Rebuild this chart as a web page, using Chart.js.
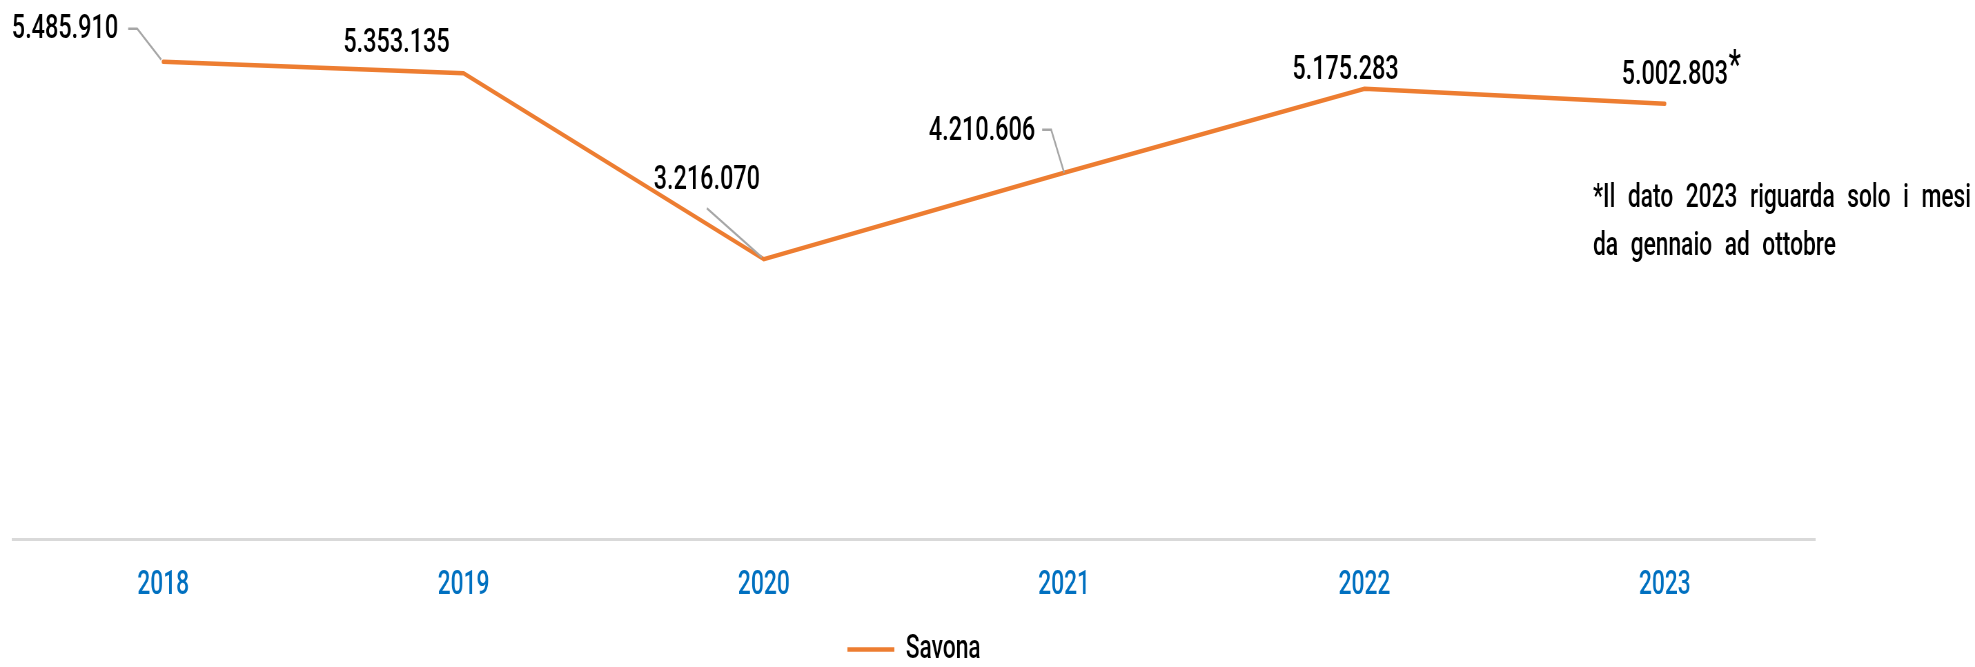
<!DOCTYPE html>
<html>
<head>
<meta charset="utf-8">
<script src="https://cdn.jsdelivr.net/npm/chart.js@4/dist/chart.umd.min.js"></script>
<style>
html,body{margin:0;padding:0;background:#fff;overflow:hidden;width:1975px;height:667px;}
/* the reference uses a condensed face; draw wider and squeeze horizontally */
#wrap{width:2862px;height:667px;position:absolute;left:0;top:0;transform:scaleX(0.690077);transform-origin:0 0;}
</style>
</head>
<body>
<div id="wrap"><canvas id="c"></canvas></div>
<script>
// ---- data ----
const years = ['2018', '2019', '2020', '2021', '2022', '2023'];
const savona = [5485910, 5353135, 3216070, 4210606, 5175283, 5002803];
const seriesName = 'Savona';
const partialYearIndex = 5;               // 2023 is partial (marked with *)
const footnoteLines = ['*Il dato 2023 riguarda solo i mesi', 'da gennaio ad ottobre'];
const yMin = 0;
const yMax = 6000000;

// ---- style ----
const SX = 1975 / 2862;                   // horizontal squeeze applied by CSS
const FONT = "Roboto, 'Liberation Sans', Arial, sans-serif";
const WEIGHT = 500;
const ORANGE = '#ED7D31';
const LEADER = '#A6A6A6';

function fmt(v) {
  return String(Math.round(v)).replace(/\B(?=(\d{3})+(?!\d))/g, '.');
}

// label placement relative to each point (screen pixels)
const labelPlacement = [
  {dx: -45, dy: -32, align: 'right', leader: [[-35, -33], [-26, -33], [-2, -2]]},
  {dx: -67, dy: -30, align: 'center'},
  {dx: -57, dy: -79, align: 'center', leader: [[-57, -51], [-2, -2]]},
  {dx: -29, dy: -41, align: 'right', leader: [[-22, -43], [-13, -43], [0, 0]]},
  {dx: -19, dy: -18, align: 'center'},
  {dx: 10, dy: -28, align: 'center'}
];

const labelPlugin = {
  id: 'valueLabels',
  afterDatasetsDraw(chart) {
    const ctx = chart.ctx;
    const meta = chart.getDatasetMeta(0);
    const data = chart.data.datasets[0].data;
    ctx.save();
    meta.data.forEach((pt, i) => {
      const p = labelPlacement[i];
      if (!p) return;
      if (p.leader) {
        ctx.beginPath();
        ctx.strokeStyle = LEADER;
        ctx.lineWidth = 2.4;
        p.leader.forEach((q, k) => {
          const x = pt.x + q[0] / SX, y = pt.y + q[1];
          if (k === 0) ctx.moveTo(x, y); else ctx.lineTo(x, y);
        });
        ctx.stroke();
      }
      ctx.font = WEIGHT + ' 34px ' + FONT;
      ctx.fillStyle = '#000';
      ctx.textAlign = p.align;
      ctx.textBaseline = 'middle';
      const txt = fmt(data[i]);
      const tx = pt.x + p.dx / SX, ty = pt.y + p.dy;
      ctx.fillText(txt, tx, ty);
      if (i === partialYearIndex) {
        const w = ctx.measureText(txt).width;
        const right = p.align === 'center' ? tx + w / 2 : (p.align === 'right' ? tx : tx + w);
        ctx.textAlign = 'left';
        ctx.textBaseline = 'alphabetic';
        ctx.font = WEIGHT + ' 40px ' + FONT;
        ctx.fillText('*', right + 1, ty + 2);
      }
    });
    // footnote, first line justified
    const area = chart.chartArea;
    const fx0 = area.right - 222 / SX, fx1 = area.right + 156 / SX;
    const fy = [area.top + 182, area.top + 230];
    ctx.font = WEIGHT + ' 33px ' + FONT;
    ctx.fillStyle = '#000';
    ctx.textAlign = 'left';
    ctx.textBaseline = 'middle';
    const words0 = footnoteLines[0].split(' ');
    const widths0 = words0.map(w => ctx.measureText(w).width);
    const sum0 = widths0.reduce((a, b) => a + b, 0);
    const gap = Math.max(8, (fx1 - fx0 - sum0) / (words0.length - 1));
    let x = fx0;
    words0.forEach((w, k) => { ctx.fillText(w, x, fy[0]); x += widths0[k] + gap; });
    x = fx0;
    footnoteLines[1].split(' ').forEach(w => {
      ctx.fillText(w, x, fy[1]);
      x += ctx.measureText(w).width + gap;
    });
    ctx.restore();
  }
};

new Chart(document.getElementById('c'), {
  type: 'line',
  data: {
    labels: years,
    datasets: [{
      label: seriesName,
      data: savona,
      borderColor: ORANGE,
      backgroundColor: ORANGE,
      borderWidth: 4.5,
      borderCapStyle: 'round',
      pointRadius: 0,
      pointHoverRadius: 0,
      tension: 0,
      fill: false
    }]
  },
  options: {
    responsive: true,
    maintainAspectRatio: false,
    animation: false,
    layout: {padding: {left: 13 / SX, right: 160 / SX, top: 17, bottom: -9}},
    scales: {
      x: {
        offset: true,
        grid: {display: false, drawTicks: false},
        border: {display: true, color: '#D9D9D9', width: 3},
        ticks: {
          color: '#0070C0',
          padding: 0,
          font: {family: FONT, size: 33, weight: WEIGHT, lineHeight: '94px'}
        }
      },
      y: {
        display: false,
        min: yMin,
        max: yMax
      }
    },
    plugins: {
      legend: {
        position: 'bottom',
        labels: {
          usePointStyle: true,
          pointStyle: 'line',
          pointStyleWidth: 47 / SX,
          padding: 0,
          color: '#000',
          font: {family: FONT, size: 33, weight: WEIGHT}
        }
      },
      tooltip: {enabled: false}
    }
  },
  plugins: [labelPlugin]
});
</script>
</body>
</html>
